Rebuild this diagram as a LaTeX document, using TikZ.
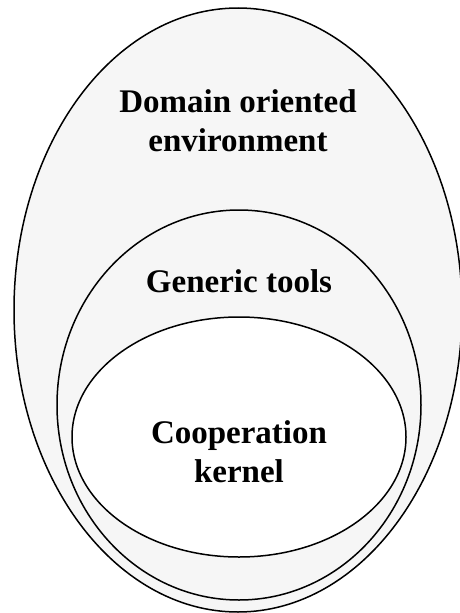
\documentclass[tikz,border=0pt]{standalone}
\usepackage{fontspec}
\setmainfont{Liberation Serif}
\usetikzlibrary{positioning,shapes.geometric}
\definecolor{shade}{RGB}{246,246,246}

\begin{document}
\begin{tikzpicture}[
x = 1pt, y = 1pt,
node distance = 2mm,
every node/.style = {
	font = \bfseries\fontsize{33}{39}\selectfont
},
layer/.style = {
	draw,
	ellipse,
	line width = 1.5pt,
	inner sep = 0pt,
	fill = shade
},
caption/.style = {
	align = center,
	inner sep = 0pt
}
]

\useasboundingbox (0,0) rectangle (459,-613);

\node (domain) [layer, minimum width = 448pt, minimum height = 604pt] at (238,-310) {};
\node (domain_t) [caption, below = 82pt of domain.north] {Domain oriented\\environment};

\node (tools) [layer, minimum width = 364pt, minimum height = 390pt] at (239,-405) {};
\node (tools_t) [caption, below = 60pt of tools.north] {Generic tools};

\node (kernel) [layer, fill = white, minimum width = 334pt, minimum height = 240pt] at (239,-437) {};
\node (kernel_t) [caption, below = 104pt of kernel.north] {Cooperation\\kernel};

\end{tikzpicture}
\end{document}
